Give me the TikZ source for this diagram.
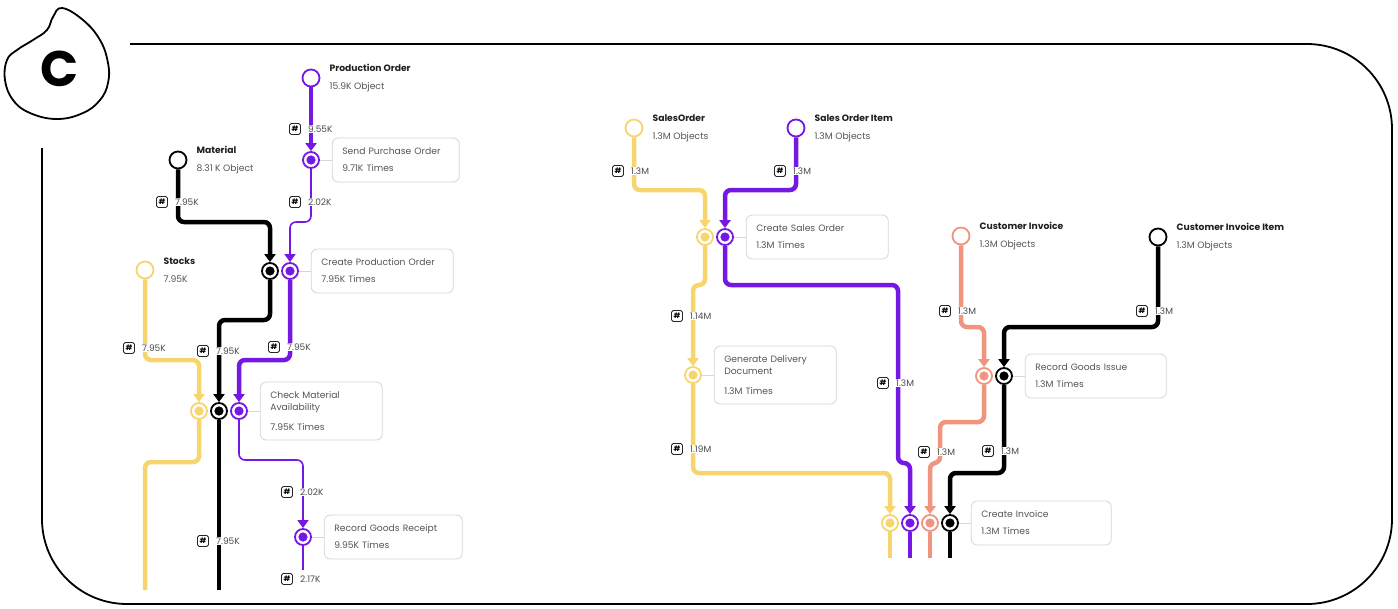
\documentclass[tikz,border=0pt]{standalone}
\usepackage{fontspec}
\setmainfont{Poppins}
\usetikzlibrary{arrows.meta,positioning}

\definecolor{ylw}{HTML}{F7D56E}
\definecolor{prp}{HTML}{7518E4}
\definecolor{slm}{HTML}{F09480}
\definecolor{txtgray}{HTML}{555555}
\definecolor{boxgray}{HTML}{D6D6D6}

\tikzset{
  obj/.style={circle, draw=#1, line width=1.8pt, fill=white, minimum size=17pt, inner sep=0pt},
  act/.style={circle, draw=#1, line width=1.8pt, fill=white, minimum size=16pt, inner sep=0pt,
    path picture={\fill[#1] (path picture bounding box.center) circle (4.6pt);}},
  objlabel/.style={right=9pt of #1, inner sep=0pt, align=left, text=txtgray,
    font=\fontsize{9.2}{12}\selectfont},
  actbox/.style={draw=boxgray, line width=0.8pt, rounded corners=6pt, fill=white,
    inner xsep=10pt, inner ysep=0pt, align=left, text=txtgray, text width=#1,
    minimum height=44pt, font=\fontsize{9.2}{12}\selectfont},
  tie/.style={draw=boxgray, line width=0.8pt},
  flow/.style={draw=#1, line width=4.5pt, rounded corners=6pt, -{Triangle[width=11pt,length=8pt]}},
  flowend/.style={draw=#1, line width=4.5pt, rounded corners=6pt},
  thinflow/.style={draw=prp, line width=1.6pt, rounded corners=6pt, -{Triangle[width=11pt,length=8pt]}},
  thinend/.style={draw=prp, line width=1.6pt},
  badge/.style={draw=black!85, line width=0.9pt, rounded corners=1.8pt, fill=white,
    minimum size=11pt, inner sep=0pt, font=\fontsize{7.5}{8}\selectfont\bfseries},
  num/.style={fill=white, inner sep=1pt, anchor=west, text=black!70, font=\fontsize{9}{10}\selectfont},
}

\newcommand{\cnt}[3]{%
  \node[badge, xshift=-16pt] (#1-b) at (#2) {\#};
  \node[num, xshift=-4pt] (#1) at (#2) {#3};}
\newcommand{\ttl}[1]{\textcolor{black!88}{\textbf{#1}}}

\begin{document}
\begin{tikzpicture}[x=1pt, y=-1pt]
  \useasboundingbox (0,0) rectangle (1398,608);

  % Logo and frame
  \draw[line width=1.8pt] plot[smooth cycle, tension=0.7] coordinates
    {(62,8) (83,20) (100,40) (108,63) (108,83) (100,100) (83,113) (57,119)
     (30,113) (13,100) (5,80) (7,60) (17,50) (33,40) (47,30) (53,17)};
  \node[font=\fontsize{50}{50}\selectfont\bfseries] (logo) at (60,69) {C};
  \draw[line width=1.8pt, rounded corners=85pt]
    (42,148) -- (42,604) -- (1392,604) -- (1392,44) -- (130,44);

  % Objects
  \node[obj=prp]   (po)   at (311,78)  {};
  \node[obj=black] (mat)  at (178,160) {};
  \node[obj=ylw]   (stk)  at (145,270) {};
  \node[obj=ylw]   (so)   at (634,128) {};
  \node[obj=prp]   (soi)  at (796,128) {};
  \node[obj=slm]   (cinv) at (961,236) {};
  \node[obj=black] (cii)  at (1158,237) {};

  \node[objlabel=po]   (po-l)   {\ttl{Production Order}\\[6pt]15.9K Object};
  \node[objlabel=mat]  (mat-l)  {\ttl{Material}\\[6pt]8.31 K Object};
  \node[objlabel=stk]  (stk-l)  {\ttl{Stocks}\\[6pt]7.95K};
  \node[objlabel=so]   (so-l)   {\ttl{SalesOrder}\\[6pt]1.3M Objects};
  \node[objlabel=soi]  (soi-l)  {\ttl{Sales Order Item}\\[6pt]1.3M Objects};
  \node[objlabel=cinv] (cinv-l) {\ttl{Customer Invoice}\\[6pt]1.3M Objects};
  \node[objlabel=cii]  (cii-l)  {\ttl{Customer Invoice Item}\\[6pt]1.3M Objects};

  % Activities
  \node[act=prp]                          (spo)   at (311,160) {};
  \node[act=black]                        (cpo-b) at (270,271) {};
  \node[act=prp, right=2.2pt of cpo-b]    (cpo-p) {};
  \node[act=ylw]                          (cma-y) at (199,411) {};
  \node[act=black, right=2.2pt of cma-y]  (cma-b) {};
  \node[act=prp, right=2.2pt of cma-b]    (cma-p) {};
  \node[act=prp]                          (rgr)   at (303,537) {};
  \node[act=ylw]                          (cso-y) at (705,237) {};
  \node[act=prp, right=2.2pt of cso-y]    (cso-p) {};
  \node[act=ylw]                          (gdd)   at (693,375) {};
  \node[act=slm]                          (rgi-s) at (984,376) {};
  \node[act=black, right=2.2pt of rgi-s]  (rgi-b) {};
  \node[act=ylw]                          (ci-y)  at (890,523) {};
  \node[act=prp, right=2.2pt of ci-y]     (ci-p)  {};
  \node[act=slm, right=2.2pt of ci-p]     (ci-s)  {};
  \node[act=black, right=2.2pt of ci-s]   (ci-b)  {};

  \node[actbox=107pt, right=12pt of spo]   (spo-box) {Send Purchase Order\\[5pt]9.71K Times};
  \node[actbox=122pt, right=12pt of cpo-p] (cpo-box) {Create Production Order\\[5pt]7.95K Times};
  \node[actbox=102pt, minimum height=58pt, right=12pt of cma-p] (cma-box)
    {Check Material\\Availability\\[8pt]7.95K Times};
  \node[actbox=118pt, right=12pt of rgr]   (rgr-box) {Record Goods Receipt\\[5pt]9.95K Times};
  \node[actbox=122pt, right=12pt of cso-p] (cso-box) {Create Sales Order\\[5pt]1.3M Times};
  \node[actbox=102pt, minimum height=58pt, right=12pt of gdd] (gdd-box)
    {Generate Delivery\\Document\\[8pt]1.3M Times};
  \node[actbox=121pt, right=12pt of rgi-b] (rgi-box) {Record Goods Issue\\[5pt]1.3M Times};
  \node[actbox=120pt, right=12pt of ci-b]  (ci-box)  {Create Invoice\\[5pt]1.3M Times};

  \draw[tie] (spo) -- (spo-box);
  \draw[tie] (cpo-p) -- (cpo-box);
  \draw[tie] (cma-p) -- (cma-box);
  \draw[tie] (rgr) -- (rgr-box);
  \draw[tie] (cso-p) -- (cso-box);
  \draw[tie] (gdd) -- (gdd-box);
  \draw[tie] (rgi-b) -- (rgi-box);
  \draw[tie] (ci-b) -- (ci-box);

  % Connect the nodes (left)
  \draw[flow=prp] (po) -- (spo);
  \draw[thinflow] (spo) -- ++(0,62) -| (cpo-p);
  \draw[flow=black] (mat) -- ++(0,62) -| (cpo-b);
  \draw[flow=ylw] (stk) -- ++(0,90) -| (cma-y);
  \draw[flow=black] (cpo-b) -- ++(0,49) -| (cma-b);
  \draw[flow=prp] (cpo-p) -- ++(0,89) -| (cma-p);
  \draw[thinflow] (cma-p) -- ++(0,49) -| (rgr);
  \draw[thinend] (rgr) -- ++(0,33) coordinate (rgr-end);
  \draw[flowend=ylw] (cma-y) -- ++(0,51) -- ++(-54,0) -- ++(0,128) coordinate (stk-end);
  \draw[flowend=black] (cma-b) -- ++(0,179) coordinate (mat-end);

  % Connect the nodes (right)
  \draw[flow=ylw] (so) -- ++(0,62) -| (cso-y);
  \draw[flow=prp] (soi) -- ++(0,62) -| (cso-p);
  \draw[flow=ylw] (cso-y) -- ++(0,48) -| (gdd);
  \draw[flow=prp] (cso-p) -- ++(0,48) -- ++(173,0) -- ++(0,178) -| (ci-p);
  \draw[flow=ylw] (gdd) -- ++(0,98) -| (ci-y);
  \draw[flow=slm] (cinv) -- ++(0,91) -| (rgi-s);
  \draw[flow=black] (cii) -- ++(0,90) -| (rgi-b);
  \draw[flow=slm] (rgi-s) -- ++(0,46) -- ++(-44,0) -- ++(0,41) -| (ci-s);
  \draw[flow=black] (rgi-b) -- ++(0,97) -| (ci-b);
  \draw[flowend=ylw] (ci-y) -- ++(0,35) coordinate (ci-y-end);
  \draw[flowend=prp] (ci-p) -- ++(0,35) coordinate (ci-p-end);
  \draw[flowend=slm] (ci-s) -- ++(0,35) coordinate (ci-s-end);
  \draw[flowend=black] (ci-b) -- ++(0,35) coordinate (ci-b-end);

  % Counts
  \cnt{c1}{311,129}{9.55K}
  \cnt{c2}{311,202}{2.02K}
  \cnt{c3}{178,202}{7.95K}
  \cnt{c4}{145,348}{7.95K}
  \cnt{c5}{219,351}{7.95K}
  \cnt{c6}{290,347}{7.95K}
  \cnt{c7}{303,492}{2.02K}
  \cnt{c8}{303,579}{2.17K}
  \cnt{c9}{219,541}{7.95K}
  \cnt{d1}{634,171}{1.3M}
  \cnt{d2}{796,171}{1.3M}
  \cnt{d3}{693,316}{1.14M}
  \cnt{d4}{899,383}{1.3M}
  \cnt{d5}{693,449}{1.19M}
  \cnt{d6}{961,311}{1.3M}
  \cnt{d7}{1158,311}{1.3M}
  \cnt{d8}{940,452}{1.3M}
  \cnt{d9}{1004,451}{1.3M}

\end{tikzpicture}
\end{document}
